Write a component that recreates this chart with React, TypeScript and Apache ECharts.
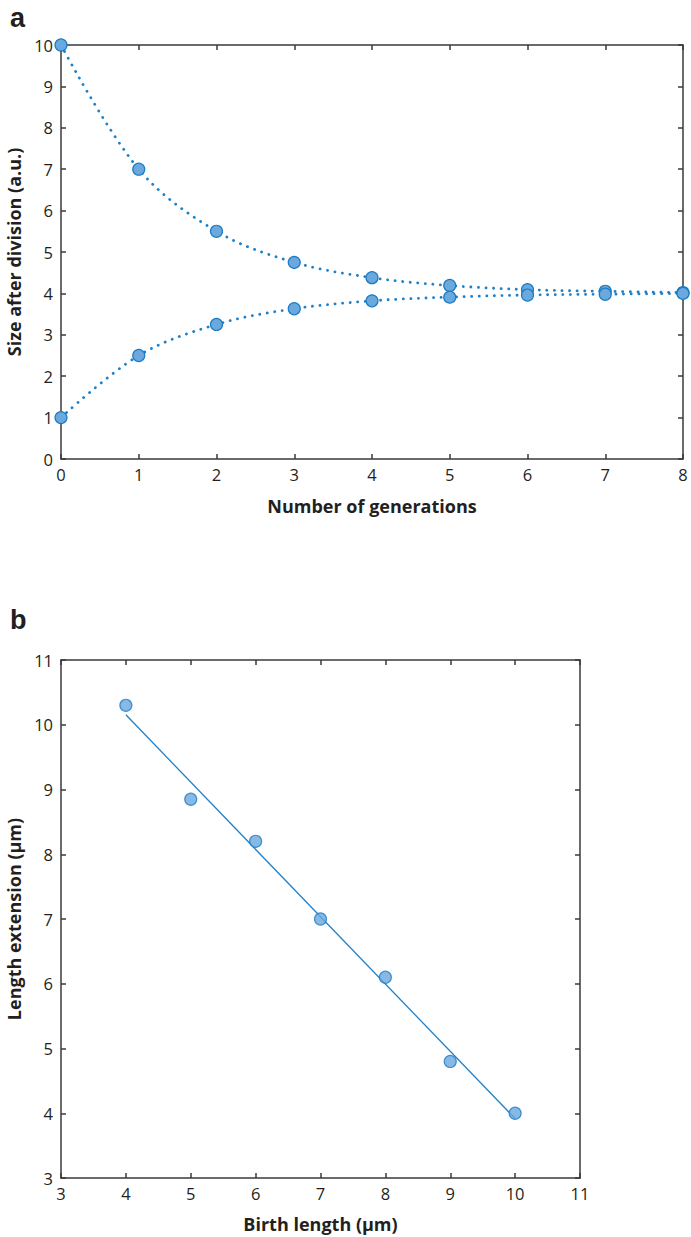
import React, { useEffect, useRef } from "react";
import * as echarts from "echarts";

const generations = [0, 1, 2, 3, 4, 5, 6, 7, 8];
const sizeFromLarge = [10, 7, 5.5, 4.75, 4.38, 4.19, 4.09, 4.05, 4.02];
const sizeFromSmall = [1, 2.5, 3.25, 3.63, 3.82, 3.91, 3.96, 3.98, 4.0];

const birthLength = [4, 5, 6, 7, 8, 9, 10];
const lengthExtension = [10.3, 8.85, 8.2, 7.0, 6.1, 4.8, 4.0];

const FONT = "'Open Sans', 'Noto Sans', sans-serif";
const PANEL_FONT = "'Liberation Sans', Arial, sans-serif";
const AXIS_COLOR = "#3a3a3a";
const LINE_COLOR = "#1f80c8";
const MARKER_FILL = "#6aa8dd";
const MARKER_BORDER = "#1a7cc4";

function fitLine(xs: number[], ys: number[]) {
  const n = xs.length;
  const mx = xs.reduce((a, b) => a + b, 0) / n;
  const my = ys.reduce((a, b) => a + b, 0) / n;
  let sxy = 0, sxx = 0;
  for (let i = 0; i < n; i++) {
    sxy += (xs[i] - mx) * (ys[i] - my);
    sxx += (xs[i] - mx) * (xs[i] - mx);
  }
  const slope = sxy / sxx;
  const icpt = my - slope * mx;
  const x0 = Math.min(...xs), x1 = Math.max(...xs);
  return [[x0, icpt + slope * x0], [x1, icpt + slope * x1]];
}

export default function App() {
  const ref = useRef<HTMLDivElement>(null);
  useEffect(() => {
    document.body.style.margin = "0";
    const chart = echarts.init(ref.current!, undefined, { renderer: "svg" });

    const axisLine = { show: true, onZero: false, lineStyle: { color: AXIS_COLOR, width: 1.5 } };
    const axisTick = { show: true, inside: true, length: 5, lineStyle: { color: AXIS_COLOR, width: 1.5 } };
    const axisLabel = { color: "#231f20", fontSize: 16.5, fontFamily: FONT, margin: 7 };
    const nameStyle = { color: "#231f20", fontSize: 18, fontWeight: "bold" as const, fontFamily: FONT };

    const mkX = (gi: number, min: number, max: number, pos: "bottom" | "top", name?: string, gap?: number) => ({
      type: "value" as const,
      gridIndex: gi,
      position: pos,
      min, max, interval: 1,
      axisLine, axisTick,
      axisLabel: pos === "bottom" ? axisLabel : { show: false },
      splitLine: { show: false },
      name: name || "",
      nameLocation: "middle" as const,
      nameGap: gap || 0,
      nameTextStyle: nameStyle,
    });
    const mkY = (gi: number, min: number, max: number, pos: "left" | "right", name?: string, gap?: number) => ({
      type: "value" as const,
      gridIndex: gi,
      position: pos,
      min, max, interval: 1,
      axisLine, axisTick,
      axisLabel: pos === "left" ? { ...axisLabel, margin: 8 } : { show: false },
      splitLine: { show: false },
      name: name || "",
      nameLocation: "middle" as const,
      nameGap: gap || 0,
      nameTextStyle: nameStyle,
    });

    const marker = {
      symbol: "circle",
      symbolSize: 12,
      itemStyle: { color: MARKER_FILL, borderColor: MARKER_BORDER, borderWidth: 1.2 },
    };
    const dotted = { color: LINE_COLOR, width: 2.8, type: [0.1, 7.5], cap: "round" as const };

    chart.setOption({
      animation: false,
      backgroundColor: "#ffffff",
      grid: [
        { left: 61, top: 45, width: 622, height: 414, outerBoundsMode: "none", containLabel: false },
        { left: 61, top: 660, width: 519, height: 518, outerBoundsMode: "none", containLabel: false },
      ],
      xAxis: [
        mkX(0, 0, 8, "bottom", "Number of generations", 38),
        mkX(0, 0, 8, "top"),
        mkX(1, 3, 11, "bottom", "Birth length (μm)", 37),
        mkX(1, 3, 11, "top"),
      ],
      yAxis: [
        mkY(0, 0, 10, "left", "Size after division (a.u.)", 29),
        mkY(0, 0, 10, "right"),
        mkY(1, 3, 11, "left", "Length extension (μm)", 30),
        mkY(1, 3, 11, "right"),
      ],
      series: [
        {
          type: "line",
          xAxisIndex: 0, yAxisIndex: 0,
          data: generations.map((g, i) => [g, sizeFromLarge[i]]),
          smooth: 0.35,
          lineStyle: dotted,
          ...marker,
          z: 3,
        },
        {
          type: "line",
          xAxisIndex: 0, yAxisIndex: 0,
          data: generations.map((g, i) => [g, sizeFromSmall[i]]),
          smooth: 0.35,
          lineStyle: dotted,
          ...marker,
          z: 3,
        },
        {
          type: "line",
          xAxisIndex: 2, yAxisIndex: 2,
          data: fitLine(birthLength, lengthExtension),
          symbol: "none",
          lineStyle: { color: LINE_COLOR, width: 1.3 },
          z: 2,
        },
        {
          type: "scatter",
          xAxisIndex: 2, yAxisIndex: 2,
          data: birthLength.map((x, i) => [x, lengthExtension[i]]),
          ...marker,
          z: 3,
        },
      ],
      graphic: [
        { type: "text", left: 10, top: 4, style: { text: "a", font: `bold 27px ${PANEL_FONT}`, fill: "#231f20" } },
        { type: "text", left: 10, top: 606, style: { text: "b", font: `bold 27px ${PANEL_FONT}`, fill: "#231f20" } },
      ],
    });
    return () => chart.dispose();
  }, []);
  return <div ref={ref} style={{ width: 691, height: 1237 }} />;
}
